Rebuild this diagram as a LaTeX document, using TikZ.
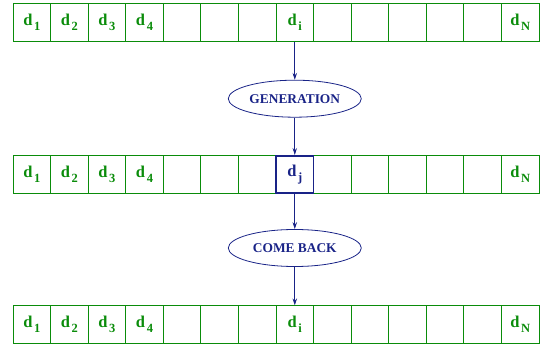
\documentclass[tikz,border=0pt]{standalone}
\usepackage{fontspec}
\setmainfont{Liberation Serif}
\usetikzlibrary{shapes.geometric, arrows.meta}

\definecolor{cellgreen}{RGB}{10,140,10}
\definecolor{markblue}{RGB}{25,35,135}

\newcommand{\dsub}[1]{d\kern1.6pt\raisebox{-4.5pt}{\fontsize{12.5}{12.5}\selectfont #1}}

\begin{document}
\begin{tikzpicture}[x=1pt, y=1pt, node distance={37.57pt},
  main/.style = {draw=cellgreen, line width=0.8pt, minimum width=37.57pt, minimum height=37.5pt, inner sep=0pt, text=cellgreen, font=\bfseries\fontsize{16.5}{16.5}\selectfont},
  picked/.style = {main, draw=markblue, line width=1.6pt, text=markblue},
  oval/.style = {draw=markblue, ellipse, line width=0.8pt, minimum width=133pt, minimum height=37pt, inner sep=0pt, text=markblue, font=\bfseries\fontsize{13.4}{13.4}\selectfont},
  flow/.style = {-{Stealth[length=7pt, width=4.5pt, inset=2.5pt]}, draw=markblue, line width=0.8pt}]
\useasboundingbox (0,0) rectangle (543,-344);
% top row
\node[main] (t1) at (31.8,-22.5) {\dsub{1}};
\node[main] (t2) [right of=t1] {\dsub{2}};
\node[main] (t3) [right of=t2] {\dsub{3}};
\node[main] (t4) [right of=t3] {\dsub{4}};
\node[main] (t5) [right of=t4] {};
\node[main] (t6) [right of=t5] {};
\node[main] (t7) [right of=t6] {};
\node[main] (t8) [right of=t7] {\dsub{i}};
\node[main] (t9) [right of=t8] {};
\node[main] (t10) [right of=t9] {};
\node[main] (t11) [right of=t10] {};
\node[main] (t12) [right of=t11] {};
\node[main] (t13) [right of=t12] {};
\node[main] (t14) [right of=t13] {\dsub{N}};
\node[oval] (gen) [below of=t8, node distance=76.2pt] {GENERATION};
% middle row
\node[main] (m1) [below of=t1, node distance=152pt] {\dsub{1}};
\node[main] (m2) [right of=m1] {\dsub{2}};
\node[main] (m3) [right of=m2] {\dsub{3}};
\node[main] (m4) [right of=m3] {\dsub{4}};
\node[main] (m5) [right of=m4] {};
\node[main] (m6) [right of=m5] {};
\node[main] (m7) [right of=m6] {};
\node[main] (m9) [right of=m7, node distance=75.14pt] {};
\node[main] (m10) [right of=m9] {};
\node[main] (m11) [right of=m10] {};
\node[main] (m12) [right of=m11] {};
\node[main] (m13) [right of=m12] {};
\node[main] (m14) [right of=m13] {\dsub{N}};
\node[picked] (m8) [right of=m7] {\dsub{j}};
\node[oval] (back) [below of=m8, node distance=73.5pt] {COME BACK};
% bottom row
\node[main] (b1) [below of=m1, node distance=150pt] {\dsub{1}};
\node[main] (b2) [right of=b1] {\dsub{2}};
\node[main] (b3) [right of=b2] {\dsub{3}};
\node[main] (b4) [right of=b3] {\dsub{4}};
\node[main] (b5) [right of=b4] {};
\node[main] (b6) [right of=b5] {};
\node[main] (b7) [right of=b6] {};
\node[main] (b8) [right of=b7] {\dsub{i}};
\node[main] (b9) [right of=b8] {};
\node[main] (b10) [right of=b9] {};
\node[main] (b11) [right of=b10] {};
\node[main] (b12) [right of=b11] {};
\node[main] (b13) [right of=b12] {};
\node[main] (b14) [right of=b13] {\dsub{N}};
\draw[flow] (t8) -- (gen);
\draw[flow] (gen) -- (m8);
\draw[flow] (m8) -- (back);
\draw[flow] (back) -- (b8);
\end{tikzpicture}
\end{document}
